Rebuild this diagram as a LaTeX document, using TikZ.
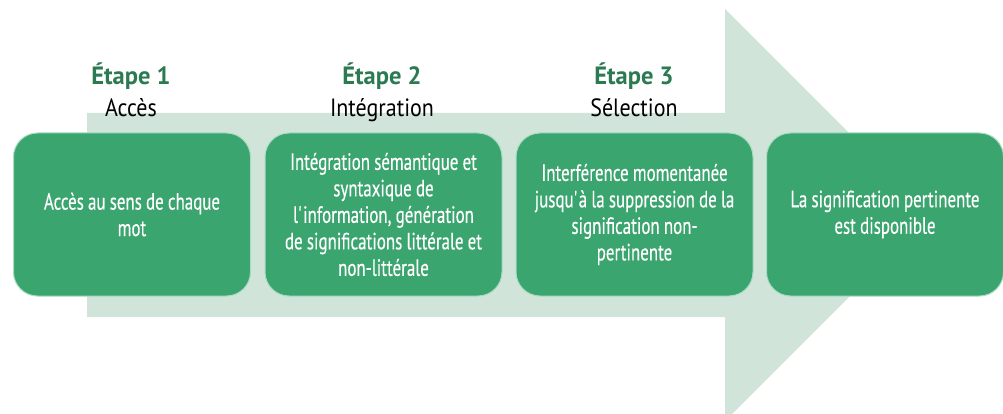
\documentclass[tikz,border=0pt]{standalone}
\usepackage{fontspec}
\setmainfont{PT Sans}
\newfontfamily\boxfont{PT Sans}[FakeStretch=0.72, FakeBold=0.3]
\newfontfamily\headfont{PT Sans}[FakeStretch=0.98]
\newfontfamily\namefont{PT Sans}[FakeStretch=0.88]
\definecolor{arrowfill}{HTML}{D1E4D9}
\definecolor{boxfill}{HTML}{3AA56E}
\definecolor{boxline}{HTML}{A9DCC1}
\definecolor{headgreen}{HTML}{2B7A52}
\tikzset{
  stepbox/.style={draw=boxline, line width=1pt, fill=boxfill, rounded corners=24pt,
    minimum width=237pt, minimum height=163pt, text width=228pt, align=center,
    text=white, font=\boxfont\fontsize{23.5}{26.5}\selectfont, inner sep=0pt,
    execute at begin node={\spaceskip=4.2pt\relax}},
  stephead/.style={anchor=base, text=headgreen, font=\headfont\fontsize{25}{28}\selectfont\bfseries, inner sep=0pt},
  stepname/.style={anchor=base, text=black, font=\namefont\fontsize{25}{28}\selectfont, inner sep=0pt}
}
\begin{document}
\begin{tikzpicture}[x=1pt,y=-1pt]
\useasboundingbox (0,0) rectangle (1003,414);
\clip (0,0) rectangle (1003,414);
\fill[white] (0,0) rectangle (1003,414);
\fill[arrowfill] (87,113) -- (725,113) -- (725,9) -- (931,215) -- (725,421) -- (725,317) -- (87,317) -- cycle;
\node[stepbox] (b1) at (132,214.5) {Accès au sens de chaque\\mot};
\node[stepbox] (b2) at (383.5,214.5) {Intégration sémantique et\\syntaxique de\\l\textquotesingle information, génération\\de significations littérale et\\non-littérale};
\node[stepbox] (b3) at (634.5,214.5) {Interférence momentanée\\jusqu\textquotesingle à la suppression de la\\signification non-\\pertinente};
\node[stepbox] (b4) at (885,214.5) {La signification pertinente\\est disponible};
\node[stephead] (h1) at (131,85) {Étape 1};
\node[stepname] (n1) at (131,117) {Accès};
\node[stephead] (h2) at (382,85) {Étape 2};
\node[stepname] (n2) at (382,117) {Intégration};
\node[stephead] (h3) at (634,85) {Étape 3};
\node[stepname] (n3) at (634,117) {Sélection};
\end{tikzpicture}
\end{document}
